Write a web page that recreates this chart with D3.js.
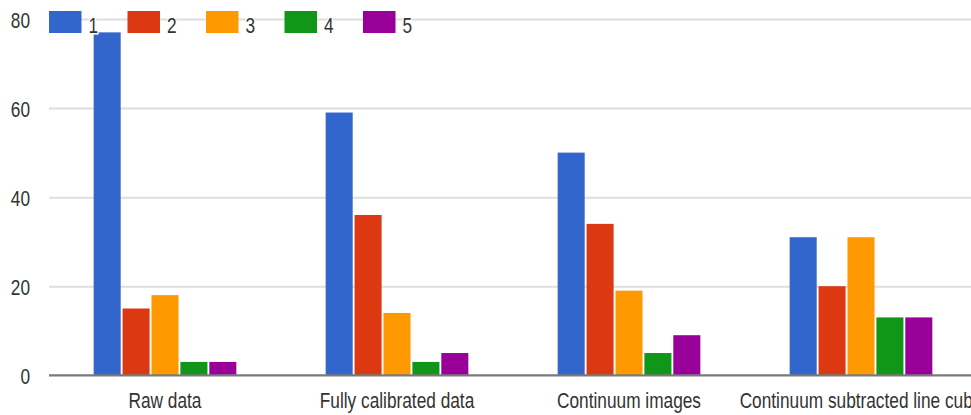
<!DOCTYPE html>
<html>
<head>
<meta charset="utf-8">
<script src="https://cdn.jsdelivr.net/npm/d3@7"></script>
<style>
  html, body { margin: 0; padding: 0; background: #fff; }
  svg { display: block; font-family: "Liberation Sans", Arial, sans-serif; }
</style>
</head>
<body>
<svg id="chart" width="971" height="415"></svg>
<script>
// Data
const categories = ["Raw data", "Fully calibrated data", "Continuum images", "Continuum subtracted line cube"];
const seriesNames = ["1", "2", "3", "4", "5"];
const series1 = [77, 59, 50, 31];
const series2 = [15, 36, 34, 20];
const series3 = [18, 14, 19, 31];
const series4 = [3, 3, 5, 13];
const series5 = [3, 5, 9, 13];
const yTicks = [0, 20, 40, 60, 80];
const colors = ["#3366cc", "#dc3912", "#ff9900", "#109618", "#990099"];

const allSeries = [series1, series2, series3, series4, series5];

const W = 971, H = 415;
const plotLeft = 49, plotRight = 977, plotTop = 19, plotBottom = 375.3;
const squeeze = 0.785;         // horizontal text compression
const fontSize = 22;
const textColor = "#333";

const svg = d3.select("#chart");

const x0 = d3.scaleBand()
  .domain(categories)
  .range([plotLeft, plotRight])
  .paddingInner(0.385)
  .paddingOuter(0.1925);

const x1 = d3.scaleBand()
  .domain(seriesNames)
  .range([0, x0.bandwidth()])
  .paddingInner(0.065)
  .paddingOuter(0);

const y = d3.scaleLinear()
  .domain([0, 80])
  .range([plotBottom, plotTop]);

// Gridlines and y labels
const yAxis = svg.append("g")
  .attr("transform", `translate(${plotLeft},0)`)
  .call(d3.axisLeft(y).tickValues(yTicks).tickSize(-(W - plotLeft)).tickFormat(d3.format("d")));
yAxis.select(".domain").remove();
yAxis.selectAll(".tick line")
  .attr("stroke", "#dedede")
  .attr("stroke-width", 2)
  .attr("opacity", d => d === 0 ? 0 : 1);
yAxis.selectAll(".tick text")
  .attr("x", (30 - plotLeft) / squeeze)
  .attr("dy", 8)
  .attr("transform", `scale(${squeeze},1)`)
  .attr("text-anchor", "end")
  .attr("fill", textColor)
  .style("font-size", fontSize + "px")
  .style("font-family", "'Liberation Sans', Arial, sans-serif");

// Bars
const groups = svg.append("g")
  .selectAll("g")
  .data(categories)
  .join("g")
  .attr("transform", d => `translate(${x0(d)},0)`);

groups.selectAll("rect")
  .data((c, ci) => seriesNames.map((s, si) => ({ s, si, v: allSeries[si][ci] })))
  .join("rect")
  .attr("x", d => x1(d.s))
  .attr("width", x1.bandwidth())
  .attr("y", d => y(d.v))
  .attr("height", d => y(0) - y(d.v))
  .attr("fill", d => colors[d.si]);

// Baseline
svg.append("line")
  .attr("x1", plotLeft).attr("x2", W)
  .attr("y1", y(0)).attr("y2", y(0))
  .attr("stroke", "#7a7a7a")
  .attr("stroke-width", 2.2);

// Category labels (the last one runs past the right edge of the plot)
const xAxis = svg.append("g")
  .attr("transform", `translate(0,${plotBottom})`)
  .call(d3.axisBottom(x0).tickSize(0));
xAxis.select(".domain").remove();
xAxis.selectAll(".tick text")
  .attr("y", 0)
  .attr("dy", 0)
  .attr("transform", `translate(0,33) scale(${squeeze},1)`)
  .attr("text-anchor", "middle")
  .attr("fill", textColor)
  .style("font-size", fontSize + "px")
  .style("font-family", "'Liberation Sans', Arial, sans-serif");

// Legend
const legendStep = 78.5;
const legend = svg.append("g").attr("transform", "translate(49,11)");
const items = legend.selectAll("g")
  .data(seriesNames)
  .join("g")
  .attr("transform", (d, i) => `translate(${i * legendStep},0)`);
items.append("rect")
  .attr("width", 32.5)
  .attr("height", 22)
  .attr("fill", (d, i) => colors[i]);
items.append("text")
  .attr("transform", `translate(39.5,21.5) scale(${squeeze},1)`)
  .attr("fill", textColor)
  .attr("stroke", "#fff")
  .attr("stroke-width", 3)
  .attr("paint-order", "stroke")
  .style("font-size", fontSize + "px")
  .text(d => d);
</script>
</body>
</html>
